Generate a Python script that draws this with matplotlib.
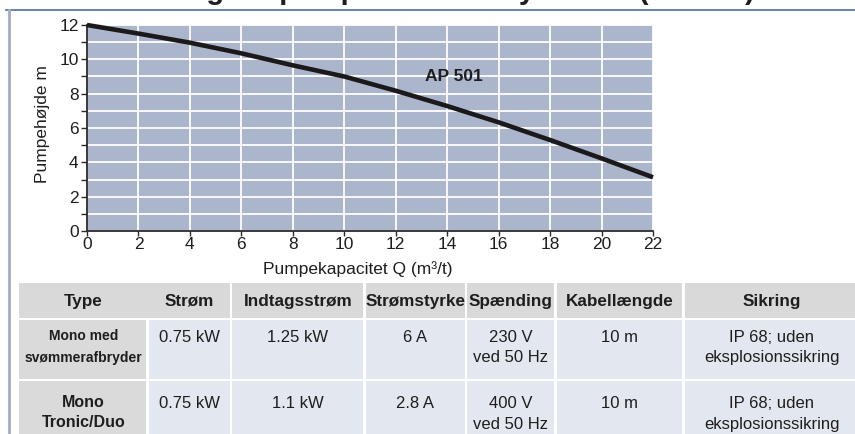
import matplotlib
matplotlib.use("Agg")
import matplotlib.pyplot as plt
from matplotlib.lines import Line2D
from matplotlib.patches import Rectangle

plt.rcParams['font.family'] = ['Liberation Sans', 'DejaVu Sans']

# ---------------- data ----------------
title = "Ydelsesmåling for pumpe til afløbssystemer (AP 501)"
curve_label = "AP 501"
flow_q = [0, 2, 4, 6, 8, 10, 12, 14, 16, 18, 20, 22]
head_h = [12.0, 11.5, 10.97, 10.35, 9.65, 9.0, 8.17, 7.28, 6.33, 5.3, 4.23, 3.13]
x_ticks = [0, 2, 4, 6, 8, 10, 12, 14, 16, 18, 20, 22]
y_ticks = [0, 2, 4, 6, 8, 10, 12]
y_minor = [1, 3, 5, 7, 9, 11]
x_label = "Pumpekapacitet Q (m³/t)"
y_label = "Pumpehøjde m"

table_header = ["Type", "Strøm", "Indtagsstrøm", "Strømstyrke", "Spænding",
                "Kabellængde", "Sikring"]
table_rows = [
    ["Mono med\nsvømmerafbryder", "0.75 kW", "1.25 kW", "6 A",
     "230 V\nved 50 Hz", "10 m", "IP 68; uden\neksplosionssikring"],
    ["Mono\nTronic/Duo", "0.75 kW", "1.1 kW", "2.8 A",
     "400 V\nved 50 Hz", "10 m", "IP 68; uden\neksplosionssikring"],
]

# ---------------- layout (pixels) ----------------
W, H = 855, 434
fig = plt.figure(figsize=(W / 100, H / 100), dpi=100)
fig.patch.set_facecolor('white')

def fx(x):
    return x / W

def fy(y):
    return 1 - y / H

# frame lines
fig.add_artist(Line2D([fx(6), 1], [fy(10), fy(10)], color='#4f6d9a', lw=1.2))
fig.add_artist(Line2D([fx(9), fx(9)], [fy(10), 0], color='#a3adc4', lw=2.0))

# title (cut off at the top edge, as in the reference)
fig.text(fx(20), fy(-1.5), title, fontsize=21, fontweight='bold',
         ha='left', va='baseline', color='#1e1e1e')

# ---------------- chart ----------------
ax = fig.add_axes([fx(87), fy(231), (653 - 87) / W, (231 - 25) / H])
ax.set_facecolor('#abb6cc')
ax.set_xlim(0, 22)
ax.set_ylim(0, 12)
ax.set_xticks(x_ticks)
ax.set_yticks(y_ticks)
ax.set_yticks(y_minor, minor=True)
ax.set_axisbelow(True)
ax.grid(which='major', axis='both', color='white', lw=1.3)
ax.grid(which='minor', axis='y', color='white', lw=1.3)
for s in ['top', 'right']:
    ax.spines[s].set_visible(False)
for s in ['left', 'bottom']:
    ax.spines[s].set_color('#2a2a2a')
    ax.spines[s].set_linewidth(1.3)
ax.tick_params(axis='both', which='both', direction='out', color='#2a2a2a',
               width=1.0, labelsize=12.5, labelcolor='#1e1e1e')
ax.tick_params(axis='y', which='both', length=4.5, pad=1.5)
ax.tick_params(axis='x', which='both', length=3.5, pad=1.0)

ax.plot(flow_q, head_h, color='#1b1919', lw=3.3, solid_capstyle='butt',
        clip_on=False, zorder=3)
ax.text(13.15, 9.0, curve_label, fontsize=12.5, fontweight='bold',
        ha='left', va='center', color='#1e1e1e')

fig.text(fx(358), fy(274), x_label, fontsize=12.5, ha='center',
         va='baseline', color='#1e1e1e')
fig.text(fx(43), fy(124), y_label, fontsize=12.5, ha='center', va='center',
         rotation=90, color='#1e1e1e')

# ---------------- table ----------------
tab = fig.add_axes([0, 0, 1, 1])
tab.set_xlim(0, W)
tab.set_ylim(H, 0)
tab.axis('off')
tab.patch.set_alpha(0)

col_edges = [19, 147.5, 231, 364.5, 466, 555.5, 683.5, 860]
header_top, header_bot = 283, 318
row_tops = [320, 381]
row_h = 59
gap = 2.5
head_col = '#d9d9d9'
type_col = '#dadada'
cell_col = '#e3e7ef'

# header background (Type + Strøm share one block)
for i in range(len(table_header)):
    x0 = col_edges[i]
    x1 = col_edges[i + 1] - gap / 2
    if i == 0:
        x1 = col_edges[2] - gap / 2
    elif i == 1:
        continue
    else:
        x0 = col_edges[i] + gap / 2
    tab.add_patch(Rectangle((x0, header_top), x1 - x0, header_bot - header_top,
                            facecolor=head_col, edgecolor='none'))
for i, name in enumerate(table_header):
    cx = (col_edges[i] + col_edges[i + 1]) / 2
    tab.text(cx, (header_top + header_bot) / 2 + 1, name, fontsize=12.3,
             fontweight='bold', ha='center', va='center', color='#1e1e1e')

type_sizes = [10, 11.5]
type_spacing = [1.75, 1.45]
type_offsets = [9, 14]
val_offsets = [10, 15.5]
for r, row in enumerate(table_rows):
    top = row_tops[r]
    for i, val in enumerate(row):
        x0 = col_edges[i] + (gap / 2 if i > 0 else 0)
        x1 = col_edges[i + 1] - gap / 2
        tab.add_patch(Rectangle((x0, top), x1 - x0, row_h,
                                facecolor=type_col if i == 0 else cell_col,
                                edgecolor='none'))
        cx = (col_edges[i] + col_edges[i + 1]) / 2
        if i == 0:
            tab.text(cx, top + type_offsets[r], val, fontsize=type_sizes[r],
                     fontweight='bold', ha='center', va='top',
                     color='#1e1e1e', linespacing=type_spacing[r])
        else:
            tab.text(cx, top + val_offsets[r], val, fontsize=12, ha='center',
                     va='top', color='#1e1e1e', linespacing=1.42)

fig.savefig('out.png', dpi=100, facecolor='white')
